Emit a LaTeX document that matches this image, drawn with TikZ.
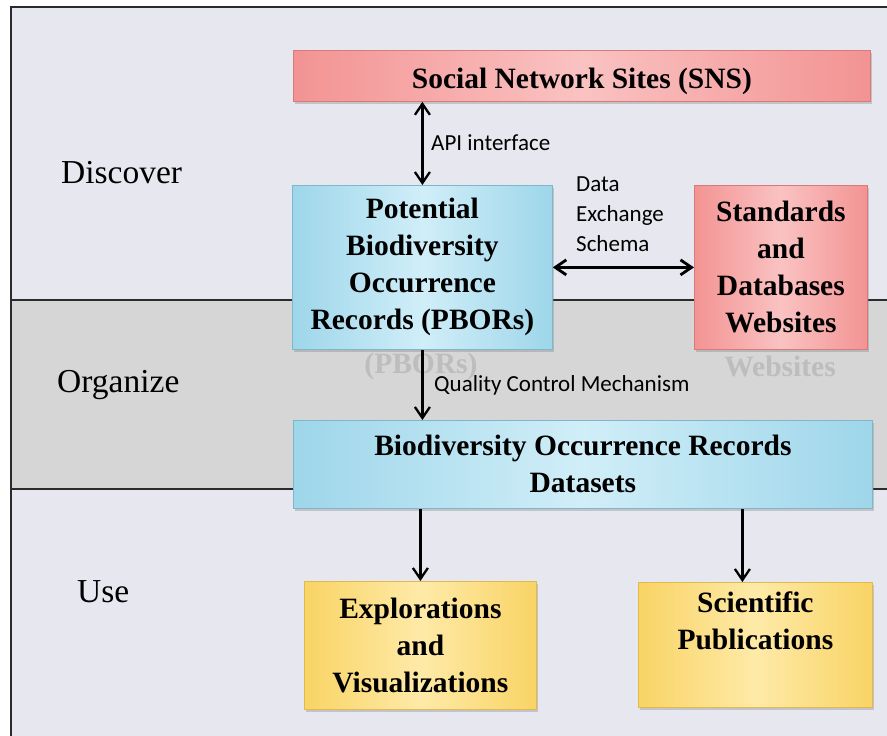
\documentclass[tikz,border=0pt]{standalone}
\usepackage{fontspec}
\setmainfont{Liberation Serif}
\newfontfamily\lblsans{Carlito}
\usetikzlibrary{arrows.meta,shadows}
\definecolor{bglav}{HTML}{E7E7F0}
\definecolor{bggray}{HTML}{D6D6D6}
\definecolor{frameline}{HTML}{2B2B2B}
\definecolor{pinkA}{HTML}{F39393}
\definecolor{pinkB}{HTML}{FAC2C2}
\definecolor{pinkline}{HTML}{D77A7A}
\definecolor{blueA}{HTML}{9ED6EA}
\definecolor{blueB}{HTML}{D0EEF8}
\definecolor{blueline}{HTML}{7DB7CE}
\definecolor{yelA}{HTML}{F9D465}
\definecolor{yelB}{HTML}{FEEAA8}
\definecolor{yelline}{HTML}{E0B94F}
\definecolor{ghostc}{HTML}{BDBDBD}
\tikzset{
  box/.style={draw, line width=0.8pt, inner sep=0pt, align=center, anchor=north west,
    font=\rmfamily\bfseries\fontsize{29.5}{37}\selectfont,
    drop shadow={shadow xshift=1.5pt, shadow yshift=-2.5pt, opacity=0.35}},
  pinkbox/.style={box, draw=pinkline, left color=pinkA, right color=pinkA, middle color=pinkB},
  bluebox/.style={box, draw=blueline, left color=blueA, right color=blueA, middle color=blueB},
  yelbox/.style={box, draw=yelline, left color=yelA, right color=yelA, middle color=yelB},
  stage/.style={font=\rmfamily\fontsize{33.5}{40}\selectfont, anchor=base west, inner sep=0pt},
  lbl/.style={font=\lblsans\fontsize{23}{30}\selectfont, anchor=base west, inner sep=0pt},
  ghost/.style={font=\rmfamily\bfseries\fontsize{29.5}{37}\selectfont, text=ghostc, inner sep=0pt},
  sepline/.style={draw=frameline, line width=1.1pt},
  onearrow/.style={line width=2.3pt, -{Straight Barb[length=11pt,width=15pt]}},
  biarrow/.style={line width=2.3pt, {Straight Barb[length=11pt,width=15pt]}-{Straight Barb[length=11pt,width=15pt]}}
}
\begin{document}
\begin{tikzpicture}[x=1pt,y=-1pt]
\useasboundingbox (0,0) rectangle (887,736);
% background bands
\fill[white] (0,0) rectangle (887,736);
\fill[bglav] (11,7) rectangle (887,300);
\fill[bggray] (11,300) rectangle (887,489);
\fill[bglav] (11,489) rectangle (887,736);
% frame and separators
\draw[sepline] (11,736) -- (11,7) -- (887,7);
\draw[sepline] (11,300) -- (887,300);
\draw[sepline] (11,489) -- (887,489);

% stage labels
\node[stage] (disc) at (61,183) {Discover};
\node[stage] (org) at (57,392) {Organize};
\node[stage] (use) at (77,602) {Use};

% faint reflections
\node[ghost] (g1) at (421,366) {(PBORs)};
\node[ghost] (g2) at (780,366) {Websites};

% boxes
\node[pinkbox, minimum width=577pt, minimum height=51pt, text height=25pt, text depth=0pt] (sns) at (293,50) {Social Network Sites (SNS)};
\node[bluebox, minimum width=260pt, minimum height=164pt] (pbor) at (292,185) {Potential\\Biodiversity\\Occurrence\\Records (PBORs)};
\node[pinkbox, minimum width=173pt, minimum height=164pt] (std) at (694,185) {Standards\\and\\Databases\\Websites};
\node[bluebox, minimum width=579pt, minimum height=88pt] (bord) at (293,420) {Biodiversity Occurrence Records\\Datasets};
\node[yelbox, minimum width=232pt, minimum height=128pt] (expl) at (304,581) {Explorations\\and\\Visualizations};
\node[yelbox, minimum width=234pt, minimum height=125pt] (sci) at (638,582) {Scientific\\Publications\\\strut};

% connector labels
\node[lbl] (apil) at (431,150) {API interface};
\node[lbl, align=left, anchor=north west] (dexl) at (576,177) {Data\\Exchange\\Schema};
\node[lbl] (qcl) at (434,391) {Quality Control Mechanism};

% connectors
\draw[biarrow] (pbor.north) -- (pbor.north |- sns.south);
\draw[biarrow, line width=2.8pt] (pbor.east) -- (std.west);
\draw[onearrow] (pbor.south) -- (pbor.south |- bord.north);
\draw[onearrow] (expl.north |- bord.south) -- (expl.north);
\draw[onearrow] ([xshift=-13pt]sci.north |- bord.south) -- ([xshift=-13pt]sci.north);
\end{tikzpicture}
\end{document}
